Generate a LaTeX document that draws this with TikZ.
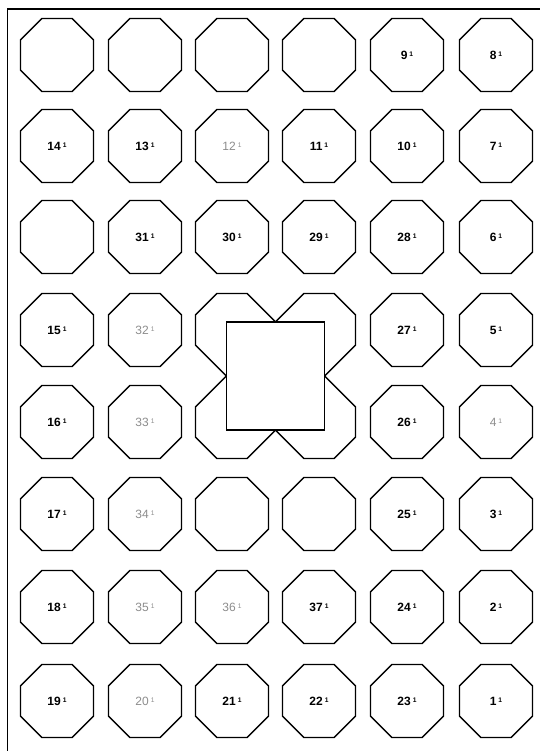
\documentclass[tikz,border=0pt]{standalone}
\usepackage{fontspec}
\setmainfont{Liberation Sans}
\usepackage{tikz}
\usetikzlibrary{shapes.geometric}
\newcommand{\num}[1]{#1\,\raisebox{0.45ex}{\fontsize{5}{5}\selectfont 1}}

\begin{document}
\begin{tikzpicture}[
  x=0.75pt, y=-0.75pt,
  font=\fontsize{9}{10}\selectfont\bfseries,
  cell/.style={
    draw, line width=1pt, regular polygon, regular polygon sides=8,
    minimum size=59.3pt, inner sep=0pt
  },
  dim/.style={cell, text=black!45, font=\fontsize{9}{10}\selectfont\mdseries},
  edge/.style={line width=1pt, line join=miter}
]
\useasboundingbox (0,0) rectangle (540,751);

% frame
\draw[line width=0.8pt] (540,9) -- (7.5,9) -- (7.5,751);

% grid points
\foreach \y [count=\r] in {55,146,237,330,422,514,607,701}
  \foreach \x [count=\c] in {57,145,232,319,407,496}
    \coordinate (g-\r-\c) at (\x,\y);

% empty cells
\foreach \r/\c in {1/1,1/2,1/3,1/4,3/1,6/3,6/4}
  \node[cell] (o-\r-\c) at (g-\r-\c) {};

% numbered cells
\foreach \r/\c/\n in {1/5/9,1/6/8,
    2/1/14,2/2/13,2/4/11,2/5/10,2/6/7,
    3/2/31,3/3/30,3/4/29,3/5/28,3/6/6,
    4/1/15,4/5/27,4/6/5,
    5/1/16,5/5/26,
    6/1/17,6/5/25,6/6/3,
    7/1/18,7/4/37,7/5/24,7/6/2,
    8/1/19,8/3/21,8/4/22,8/5/23,8/6/1}
  \node[cell] (o-\r-\c) at (g-\r-\c) {\num{\n}};

\foreach \r/\c/\n in {2/3/12,4/2/32,5/2/33,5/6/4,6/2/34,7/2/35,7/3/36,8/2/20}
  \node[dim] (o-\r-\c) at (g-\r-\c) {\num{\n}};

% centre block: four cut octagons behind a square
\foreach \c/\r/\sx/\sy in {3/4/1/1, 4/4/-1/1, 3/5/1/-1, 4/5/-1/-1}
  \draw[edge, shift={(g-\r-\c)}, xscale=\sx, yscale=\sy]
    (3.5,55.1) -- (-36.5,15.1) -- (-36.5,-15.1) -- (-15.1,-36.5)
    -- (15.1,-36.5) -- (55.1,3.5);
\draw[edge, fill=white] (226.4,321.9) rectangle (324.6,430.1);
\end{tikzpicture}
\end{document}
